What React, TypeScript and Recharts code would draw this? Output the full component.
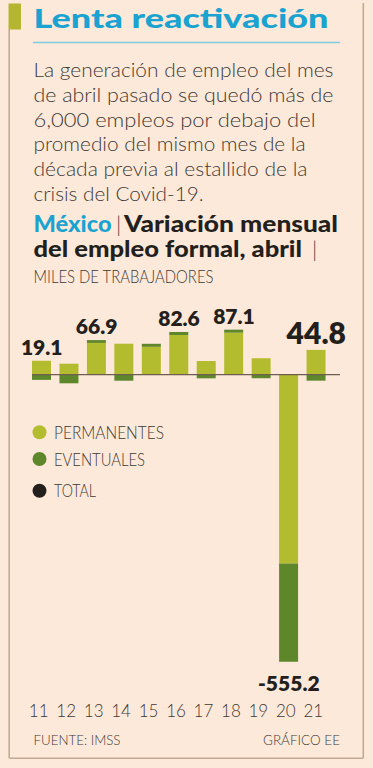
import React from 'react';
import { ComposedChart, Bar, Line, XAxis, YAxis, ReferenceLine, LabelList } from 'recharts';

// ---- data ----
const years = ['11', '12', '13', '14', '15', '16', '17', '18', '19', '20', '21'];
const permanentes = [27, 21.3, 61.5, 60, 54, 76.8, 26.5, 81.3, 31.7, -365, 48];
const eventuales = [-10, -16.6, 5.4, -11.6, 5.8, 5.8, -7, 5.8, -7, -190.2, -11.5];
const totales: (number | null)[] = [19.1, null, 66.9, null, null, 82.6, null, 87.1, null, -555.2, 44.8];

const titleText = 'Lenta reactivación';
const bodyLines = [
  'La generación de empleo del mes',
  'de abril pasado se quedó más de',
  '6,000 empleos por debajo del',
  'promedio del mismo mes de la',
  'década previa al estallido de la',
  'crisis del Covid-19.',
];
const subtitleCountry = 'México';
const subtitleLine1 = 'Variación mensual';
const subtitleLine2 = 'del empleo formal, abril';
const unitsText = 'MILES DE TRABAJADORES';
const legendLabels = ['PERMANENTES', 'EVENTUALES', 'TOTAL'];
const sourceText = 'FUENTE: IMSS';
const creditText = 'GRÁFICO EE';

// ---- styles ----
const BG = '#FDE9D9';
const CYAN = '#1AA3D0';
const PERM = '#B3BB2E';
const EVEN = '#5E862B';
const DARK = '#231F1C';
const TEXT = '#3E3935';
const FRAME = '#C4AA93';
const FONT = 'Lato, "Open Sans", sans-serif';

const data = years.map((y, i) => {
  const p = permanentes[i];
  const e = eventuales[i];
  const t = totales[i];
  let anchor: number | null = null;
  if (t != null) {
    anchor = t >= 0 ? Math.max(p, 0) + Math.max(e, 0) : Math.min(p, 0) + Math.min(e, 0);
  }
  return { year: y, permanentes: p, eventuales: e, total: t, anchor };
});

const TotalLabel = (props: any) => {
  const { x, y, value, index } = props;
  if (value == null || x == null || y == null) return null;
  const last = index === years.length - 1;
  const neg = value < 0;
  return (
    <text
      x={x}
      y={neg ? y + 29 : y - 6}
      textAnchor="middle"
      fontFamily={FONT}
      fontWeight={800}
      fontSize={last ? 30 : 21}
      fill={DARK}
    >
      {value.toFixed(1)}
    </text>
  );
};

const Tick = (props: any) => {
  const { x, y, payload } = props;
  return (
    <text x={x - 3} y={y} dy={24} textAnchor="middle" fontFamily={FONT} fontSize={17} fill={TEXT} fontWeight={300}>
      {payload.value}
    </text>
  );
};

const ZeroLine = (props: any) => {
  const { x1, y1, x2, y2 } = props;
  if (x1 == null) return null;
  return <line x1={x1 + 4} y1={y1} x2={x2} y2={y2} stroke="#6E5E52" strokeWidth={1.2} />;
};

export default function App() {
  return (
    <div style={{ position: 'absolute', left: 0, top: 0, width: 373, height: 768, background: BG, overflow: 'hidden' }}>
      <div style={{ position: 'absolute', left: 0, top: 0 }}>
        <ComposedChart
          width={373}
          height={768}
          data={data}
          stackOffset="sign"
          margin={{ top: 323, right: 33, bottom: 53, left: 28 }}
        >
          <XAxis
            dataKey="year"
            axisLine={false}
            tickLine={false}
            height={30}
            interval={0}
            padding={{ left: 0, right: 10 }}
            tick={<Tick />}
          />
          <YAxis hide domain={[-600, 100]} />
          <Bar dataKey="permanentes" stackId="a" fill={PERM} barSize={19} isAnimationActive={false} />
          <Bar dataKey="eventuales" stackId="a" fill={EVEN} barSize={19} isAnimationActive={false} />
          <ReferenceLine y={0} shape={<ZeroLine />} />
          <Line dataKey="anchor" stroke="none" dot={false} activeDot={false} isAnimationActive={false} legendType="none">
            <LabelList dataKey="total" content={<TotalLabel />} />
          </Line>
        </ComposedChart>
      </div>
      <svg width={373} height={768} style={{ position: 'absolute', left: 0, top: 0, pointerEvents: 'none' }}>
        {/* frame */}
        <rect x={8.5} y={3.5} width={12.5} height={26} fill="#B4B632" />
        <line x1={9.2} y1={29} x2={9.2} y2={758.3} stroke={FRAME} strokeWidth={1.6} />
        <line x1={9.2} y1={758.3} x2={363.3} y2={758.3} stroke={FRAME} strokeWidth={1.6} />
        <line x1={363.3} y1={3} x2={363.3} y2={758.3} stroke={FRAME} strokeWidth={1.6} />
        {/* title */}
        <text x={33.5} y={28} fontFamily={FONT} fontWeight={900} fontSize={26} fill={CYAN} textLength={295} lengthAdjust="spacingAndGlyphs">
          {titleText}
        </text>
        <line x1={33} y1={42.5} x2={340} y2={42.5} stroke="#7CCBE0" strokeWidth={1.3} />
        {/* body */}
        {bodyLines.map((l, i) => {
          const widths = [300, 300, 282, 272, 274, 170];
          return (
            <text key={i} x={33.5} y={77 + i * 24.8} fontFamily={FONT} fontSize={19} fill={TEXT} fontWeight={300}
              textLength={widths[i]} lengthAdjust="spacingAndGlyphs">
              {l}
            </text>
          );
        })}
        {/* subtitle */}
        <text x={33.5} y={231.7} fontFamily={FONT} fontWeight={900} fontSize={22} fill={CYAN} textLength={78} lengthAdjust="spacingAndGlyphs">
          {subtitleCountry}
        </text>
        <text x={116} y={231.7} fontFamily={FONT} fontWeight={300} fontSize={22} fill={TEXT}>|</text>
        <text x={124} y={231.7} fontFamily={FONT} fontWeight={900} fontSize={22} fill={DARK} textLength={214} lengthAdjust="spacingAndGlyphs">
          {subtitleLine1}
        </text>
        <text x={33.5} y={256.7} fontFamily={FONT} fontWeight={900} fontSize={22} fill={DARK} textLength={268.5} lengthAdjust="spacingAndGlyphs">
          {subtitleLine2}
        </text>
        <text x={312} y={256.7} fontFamily={FONT} fontWeight={300} fontSize={22} fill={TEXT}>|</text>
        <text x={33.5} y={283.3} fontFamily={FONT} fontWeight={300} fontSize={17} fill={TEXT} textLength={180} lengthAdjust="spacingAndGlyphs">
          {unitsText}
        </text>
        {/* legend */}
        {legendLabels.map((l, i) => {
          const cys = [432.3, 459, 490.7];
          const cols = [PERM, EVEN, DARK];
          const ws = [110, 91, 42];
          return (
            <g key={l}>
              <circle cx={39.5} cy={cys[i]} r={7} fill={cols[i]} />
              <text x={54} y={cys[i] + 6.5} fontFamily={FONT} fontWeight={300} fontSize={18} fill={TEXT} textLength={ws[i]} lengthAdjust="spacingAndGlyphs">
                {l}
              </text>
            </g>
          );
        })}
        {/* footer */}
        <text x={33.5} y={745} fontFamily={FONT} fontWeight={300} fontSize={14.5} fill={TEXT} textLength={87} lengthAdjust="spacingAndGlyphs">
          {sourceText}
        </text>
        <text x={263} y={745} fontFamily={FONT} fontWeight={300} fontSize={14.5} fill={TEXT} textLength={77} lengthAdjust="spacingAndGlyphs">
          {creditText}
        </text>
      </svg>
    </div>
  );
}
